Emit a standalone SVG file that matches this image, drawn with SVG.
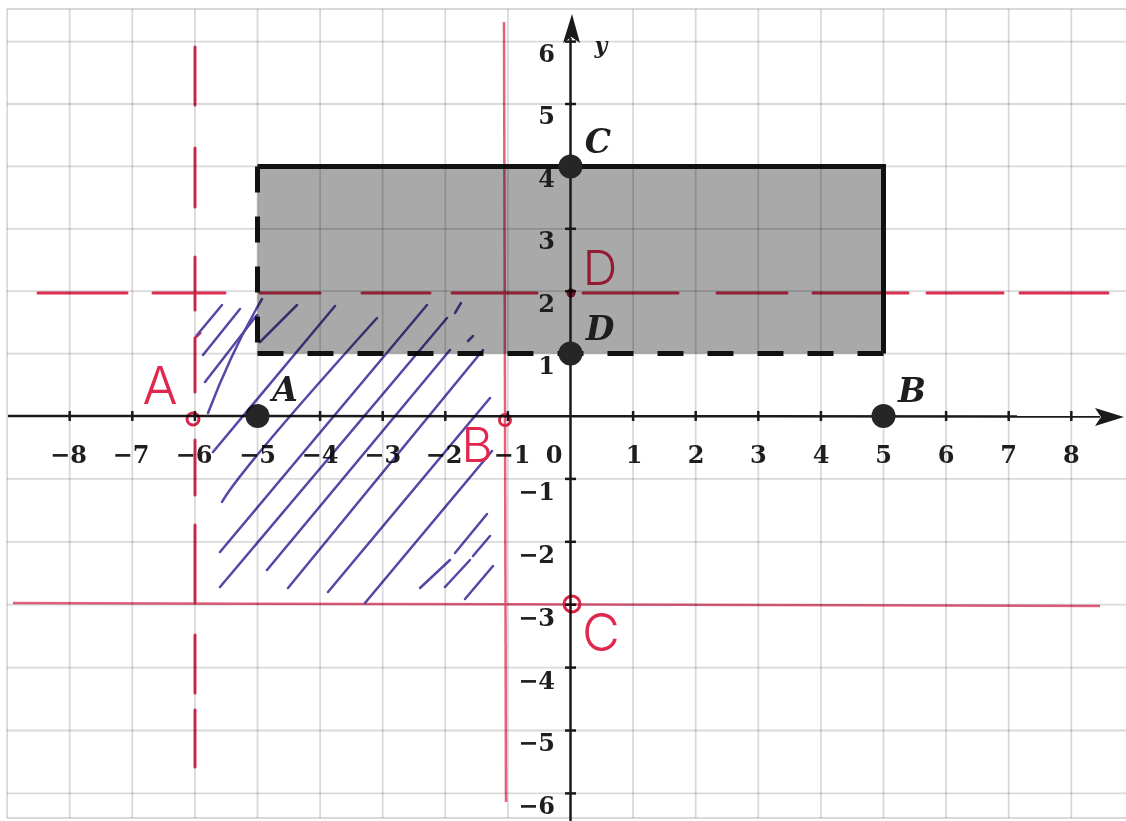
<svg xmlns="http://www.w3.org/2000/svg" width="1126" height="821" viewBox="0 0 1126 821">
<defs>
<style>
.grid line{stroke:#000;stroke-opacity:0.15;stroke-width:1.8}
.axis{stroke:#1a1a1a;stroke-width:2.5;fill:none}
.tick{stroke:#1a1a1a;stroke-width:2.5}
.num{font-family:"DejaVu Serif","Liberation Serif",serif;font-weight:bold;font-size:24px;fill:#1e1e1e}
.pt{font-family:"DejaVu Serif","Liberation Serif",serif;font-weight:bold;font-style:italic;font-size:33px;fill:#1e1e1e}
.dot{fill:#262626}
.edge{stroke:#111;stroke-width:5;fill:none}
.ink{mix-blend-mode:multiply}
.redd{stroke:#de2f50;stroke-width:3;fill:none;stroke-linecap:round}
.reds{stroke:#e4607c;stroke-width:2.5;fill:none}
.redc{stroke:#d8284a;stroke-width:3;fill:none}
.hand{font-family:Inter,"Open Sans","Liberation Sans",sans-serif;font-weight:300;fill:#e0284e}
.hatch path{stroke:#5547a6;stroke-width:2.5;fill:none;stroke-linecap:round}
</style>
</defs>
<rect x="0" y="0" width="1126" height="821" fill="#fff"/>
<g id="shape-fill"><rect x="257.5" y="166.4" width="626" height="187.2" fill="#a9a9a9"/></g>
<g id="grid" class="grid">
<line x1="7.1" y1="9" x2="7.1" y2="818"/><line x1="69.7" y1="9" x2="69.7" y2="818"/><line x1="132.3" y1="9" x2="132.3" y2="818"/><line x1="194.9" y1="9" x2="194.9" y2="818"/><line x1="257.5" y1="9" x2="257.5" y2="818"/><line x1="320.1" y1="9" x2="320.1" y2="818"/><line x1="382.7" y1="9" x2="382.7" y2="818"/><line x1="445.3" y1="9" x2="445.3" y2="818"/><line x1="507.9" y1="9" x2="507.9" y2="818"/><line x1="633.1" y1="9" x2="633.1" y2="818"/><line x1="695.7" y1="9" x2="695.7" y2="818"/><line x1="758.3" y1="9" x2="758.3" y2="818"/><line x1="820.9" y1="9" x2="820.9" y2="818"/><line x1="883.5" y1="9" x2="883.5" y2="818"/><line x1="946.1" y1="9" x2="946.1" y2="818"/><line x1="1008.7" y1="9" x2="1008.7" y2="818"/><line x1="1071.3" y1="9" x2="1071.3" y2="818"/>
<line x1="7" y1="9" x2="1126" y2="9"/><line x1="7" y1="41.6" x2="1126" y2="41.6"/><line x1="7" y1="104" x2="1126" y2="104"/><line x1="7" y1="166.4" x2="1126" y2="166.4"/><line x1="7" y1="228.8" x2="1126" y2="228.8"/><line x1="7" y1="291.2" x2="1126" y2="291.2"/><line x1="7" y1="353.6" x2="1126" y2="353.6"/><line x1="7" y1="478.9" x2="1126" y2="478.9"/><line x1="7" y1="541.8" x2="1126" y2="541.8"/><line x1="7" y1="604.7" x2="1126" y2="604.7"/><line x1="7" y1="667.6" x2="1126" y2="667.6"/><line x1="7" y1="730.5" x2="1126" y2="730.5"/><line x1="7" y1="793.4" x2="1126" y2="793.4"/><line x1="7" y1="818" x2="1126" y2="818"/>
</g>
<g id="axes">
<line class="axis" x1="8" y1="416" x2="1100" y2="416.5"/>
<polygon points="1124,417 1095,408 1101,417 1095,426" fill="#1a1a1a"/>
<line class="axis" x1="570.5" y1="38" x2="570.5" y2="821"/>
<polygon points="572,14 563,43 571.5,37 580,43" fill="#1a1a1a"/>
<g class="tick">
<line x1="69.7" y1="411" x2="69.7" y2="421"/><line x1="132.3" y1="411" x2="132.3" y2="421"/><line x1="194.9" y1="411" x2="194.9" y2="421"/><line x1="257.5" y1="411" x2="257.5" y2="421"/><line x1="320.1" y1="411" x2="320.1" y2="421"/><line x1="382.7" y1="411" x2="382.7" y2="421"/><line x1="445.3" y1="411" x2="445.3" y2="421"/><line x1="507.9" y1="411" x2="507.9" y2="421"/><line x1="633.1" y1="411" x2="633.1" y2="421"/><line x1="695.7" y1="411" x2="695.7" y2="421"/><line x1="758.3" y1="411" x2="758.3" y2="421"/><line x1="820.9" y1="411" x2="820.9" y2="421"/><line x1="883.5" y1="411" x2="883.5" y2="421"/><line x1="946.1" y1="411" x2="946.1" y2="421"/><line x1="1008.7" y1="411" x2="1008.7" y2="421"/><line x1="1071.3" y1="411" x2="1071.3" y2="421"/>
<line x1="565" y1="41.6" x2="576" y2="41.6"/><line x1="565" y1="104" x2="576" y2="104"/><line x1="565" y1="166.4" x2="576" y2="166.4"/><line x1="565" y1="228.8" x2="576" y2="228.8"/><line x1="565" y1="291.2" x2="576" y2="291.2"/><line x1="565" y1="353.6" x2="576" y2="353.6"/><line x1="565" y1="478.9" x2="576" y2="478.9"/><line x1="565" y1="541.8" x2="576" y2="541.8"/><line x1="565" y1="604.7" x2="576" y2="604.7"/><line x1="565" y1="667.6" x2="576" y2="667.6"/><line x1="565" y1="730.5" x2="576" y2="730.5"/><line x1="565" y1="793.4" x2="576" y2="793.4"/>
</g>
<g class="num" text-anchor="middle">
<text x="68.5" y="463">−8</text><text x="131" y="463">−7</text><text x="194" y="463">−6</text><text x="257.5" y="463">−5</text><text x="320" y="463">−4</text><text x="382.7" y="463">−3</text><text x="444" y="463">−2</text><text x="512" y="463">−1</text><text x="554" y="463">0</text>
<text x="634" y="463">1</text><text x="696" y="463">2</text><text x="758.3" y="463">3</text><text x="821" y="463">4</text><text x="883.5" y="463">5</text><text x="946.1" y="463">6</text><text x="1008.7" y="463">7</text><text x="1071.3" y="463">8</text>
</g>
<g class="num" text-anchor="end">
<text x="555" y="62">6</text><text x="555" y="124">5</text><text x="555" y="187">4</text><text x="555" y="249">3</text><text x="555" y="312">2</text><text x="555" y="374">1</text>
<text x="555" y="500">−1</text><text x="555" y="563">−2</text><text x="555" y="626">−3</text><text x="555" y="689">−4</text><text x="555" y="751">−5</text><text x="555" y="814">−6</text>
</g>
<text x="601" y="53" class="pt" style="font-size:22px" text-anchor="middle">y</text>
</g>
<g id="rectangle">
<path class="edge" d="M257.5,166.4 H883.5 V353.6"/>
<path class="edge" d="M257.5,166.4 V353.6" stroke-dasharray="26 24"/>
<path class="edge" d="M257.5,353.6 H883.5" stroke-dasharray="26 24"/>
</g>
<g id="point-A"><circle class="dot" cx="257.5" cy="416" r="12"/><text class="pt" x="285" y="401" text-anchor="middle">A</text></g>
<g id="point-B"><circle class="dot" cx="883.5" cy="416" r="12"/><text class="pt" x="912" y="402" text-anchor="middle">B</text></g>
<g id="point-C"><circle class="dot" cx="570.5" cy="166.4" r="12"/><text class="pt" x="598" y="153" text-anchor="middle">C</text></g>
<g id="point-D"><circle class="dot" cx="570.5" cy="353.6" r="12"/><text class="pt" x="600" y="340" text-anchor="middle">D</text></g>
<g id="connectors" class="ink">
<path class="reds" d="M504,22 L506,802"/>
<path class="reds" d="M13,603 L1100,606" stroke-width="3"/>
<path class="redd" d="M195,47 V105 M195,148 V207 M195,257 V310 M200,333 L195,338 V392 M195,440 V495 M195,525 V603 M195,635 V693 M195,710 V767"/>
<path class="redd" d="M38,293 H127 M153,293 H225 M260,293 H320 M362,293 H430 M452,293 H537 M583,293 H678 M717,293 H787 M813,293 H908 M927,293 H1003 M1020,293 H1108"/>
<circle class="redc" cx="193" cy="419" r="6"/>
<circle class="redc" cx="505" cy="420" r="5.5"/>
<circle cx="571" cy="293" r="4.5" fill="#a82242"/>
<circle class="redc" cx="572" cy="604" r="8" stroke-width="2.5"/>
<g class="hatch">
<path d="M197,335 L222,305"/>
<path d="M203,355 L240,309"/>
<path d="M205,382 L257,315"/>
<path d="M208,413 Q232,350 262,299"/>
<path d="M260,342 L297,305"/>
<path d="M213,452 L335,306"/>
<path d="M222,502 Q240,470 377,318"/>
<path d="M220,552 L427,305"/>
<path d="M220,587 L447,318"/>
<path d="M267,570 L450,350"/>
<path d="M288,588 L483,350"/>
<path d="M328,592 L490,398"/>
<path d="M365,603 L492,451"/>
<path d="M420,588 L450,560"/>
<path d="M455,553 L487,514"/>
<path d="M445,587 L470,560"/>
<path d="M473,556 L490,536"/>
<path d="M465,599 L493,566"/>
<path d="M455,313 L461,303"/>
<path d="M468,341 L473,336"/>
</g>
<text class="hand" x="160" y="404" font-size="52" text-anchor="middle">A</text>
<text class="hand" x="477" y="462" font-size="48" text-anchor="middle">B</text>
<text class="hand" x="601" y="651" font-size="52" text-anchor="middle">C</text>
<text class="hand" x="600" y="285" font-size="48" text-anchor="middle">D</text>
</g>
</svg>
